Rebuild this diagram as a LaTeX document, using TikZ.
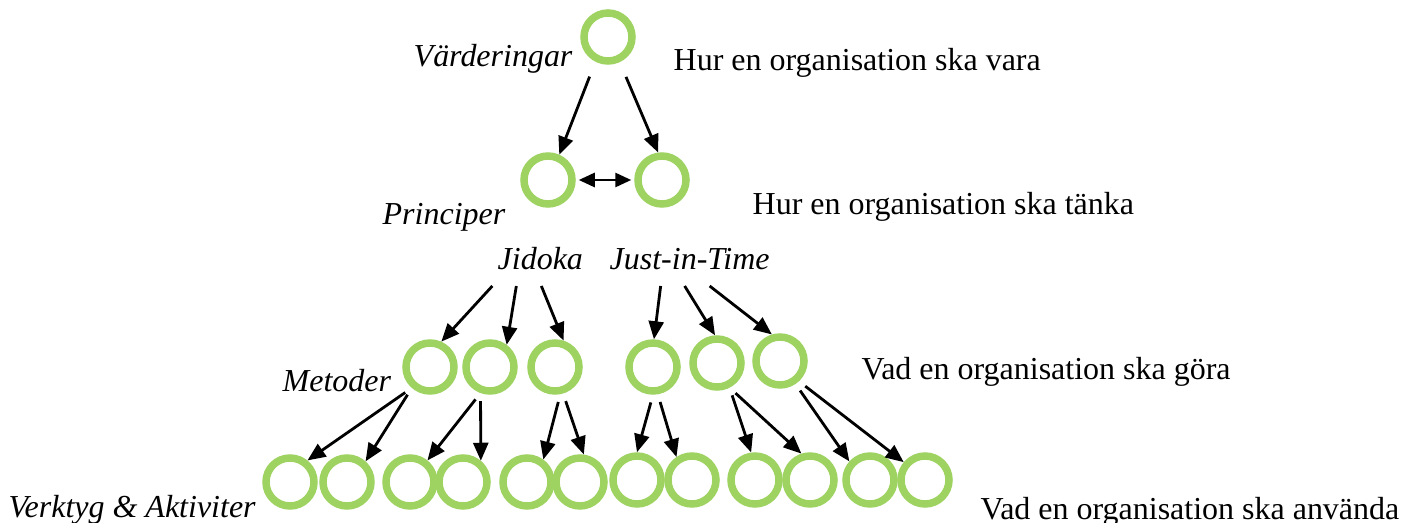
\documentclass[tikz,border=0pt]{standalone}
\usepackage{fontspec}
\setmainfont{Liberation Serif}
\usetikzlibrary{arrows.meta,positioning,calc}
\definecolor{cRing}{HTML}{9ED362}

\begin{document}
\begin{tikzpicture}[
    ring/.style={circle, draw=cRing, line width=0.075cm, minimum size=0.48cm, inner sep=0pt},
    lbl/.style={anchor=base west, inner sep=0pt, font=\fontsize{9.1pt}{11pt}\selectfont},
    ilbl/.style={lbl, font=\fontsize{9.1pt}{11pt}\selectfont\itshape},
    arr/.style={-{Triangle[length=0.18cm, width=0.15cm]}, line width=0.028cm, shorten <=0.08cm}
]
\useasboundingbox (0,0) rectangle (14.23,-5.23);

% levels
\node[ring] (vard) at (6.08,-0.37) {};
\node[ring] (p1) at (5.48,-1.80) {};
\node[ring] (p2) at (6.62,-1.80) {};
\foreach \n/\x/\y in {m1/4.30/3.67, m2/4.90/3.67, m3/5.55/3.67, m4/6.53/3.67, m5/7.17/3.63, m6/7.80/3.61} {
  \node[ring] (\n) at (\x,-\y) {};
}
\foreach \n/\x/\y in {t1/2.90/4.82, t2/3.47/4.82, t3/4.10/4.82, t4/4.63/4.82, t5/5.27/4.82, t6/5.80/4.82,
                      t7/6.37/4.80, t8/6.92/4.80, t9/7.55/4.80, t10/8.10/4.80, t11/8.70/4.80, t12/9.25/4.80} {
  \node[ring] (\n) at (\x,-\y) {};
}

% labels
\node[ilbl] (lvard) at (4.13,-0.67) {Värderingar};
\node[lbl]  (dvard) at (6.73,-0.71) {Hur en organisation ska vara};
\node[ilbl] (lprin) at (3.82,-2.25) {Principer};
\node[lbl]  (dprin) at (7.52,-2.15) {Hur en organisation ska tänka};
\node[ilbl] (jid) at (4.97,-2.70) {Jidoka};
\node[ilbl] (jit) at (6.09,-2.70) {Just-in-Time};
\node[ilbl] (lmet) at (2.82,-3.92) {Metoder};
\node[lbl]  (dmet) at (8.61,-3.80) {Vad en organisation ska göra};
\node[ilbl] (lverk) at (0.08,-5.18) {Verktyg \& Aktiviter};
\node[lbl]  (dverk) at (9.80,-5.20) {Vad en organisation ska använda};

% arrows
\draw[arr, shorten <=0.16cm] (vard.243) -- (p1.66);
\draw[arr, shorten <=0.16cm] (vard.295) -- (p2.98);
\draw[{Triangle[length=0.16cm, width=0.14cm]}-{Triangle[length=0.16cm, width=0.14cm]}, line width=0.028cm,
      shorten <=0.03cm, shorten >=0.03cm] (p1) -- (p2);

\foreach \c/\s/\dx in {j1/jid/-0.48, j2/jid/-0.24, j3/jid/0.01, j4/jit/-0.29, j5/jit/-0.05, j6/jit/0.20} {
  \coordinate (\c) at ([xshift=\dx cm, yshift=-0.16cm]\s.base);
}
\foreach \a/\b/\e in {j1/m1/66, j2/m2/53, j3/m3/72, j4/m4/88, j5/m5/94, j6/m6/107} {
  \draw[arr, shorten <=0pt] (\a) -- (\b.\e);
}

\foreach \a/\s/\b/\e in {m1/229/t1/51, m1/229/t2/48, m2/250/t3/51, m2/250/t4/50,
                         m3/281/t5/54, m3/287/t6/82, m4/270/t7/90, m4/280/t8/124,
                         m5/297/t9/98, m5/297/t10/108, m6/304/t11/138, m6/313/t12/140} {
  \draw[arr] (\a.\s) -- (\b.\e);
}
\end{tikzpicture}
\end{document}
